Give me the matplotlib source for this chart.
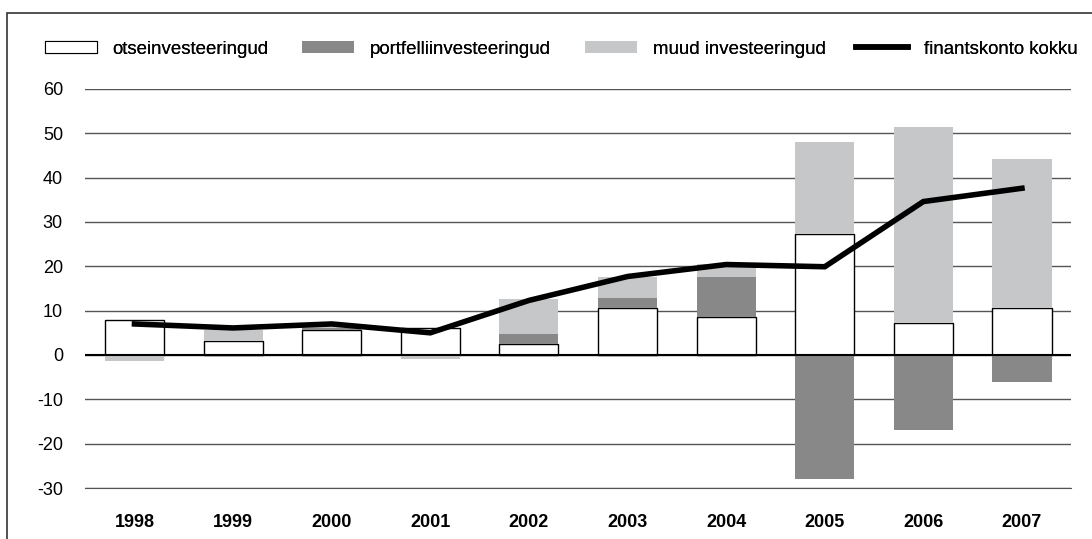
import matplotlib.pyplot as plt
import numpy as np
from matplotlib.patches import Rectangle
from matplotlib.lines import Line2D

plt.rcParams['font.family'] = ['Liberation Sans', 'DejaVu Sans']
plt.rcParams['axes.unicode_minus'] = False

years = ['1998', '1999', '2000', '2001', '2002', '2003', '2004', '2005', '2006', '2007']
otse = [7.9, 3.2, 5.7, 6.1, 2.4, 10.7, 8.6, 27.3, 7.2, 10.5]
portfell = [0.0, 0.0, 0.3, 0.0, 2.3, 2.2, 9.1, -27.9, -16.9, -6.0]
muud = [-1.4, 2.4, 0.6, -0.8, 7.9, 4.7, 2.8, 20.8, 44.3, 33.7]
kokku = [7.0, 6.1, 7.0, 5.0, 12.3, 17.7, 20.4, 19.9, 34.6, 37.6]

fig = plt.figure(figsize=(10.92, 5.39), dpi=100)
ax = fig.add_axes([0.078, 0.0946, 0.903, 0.7404])

x = np.arange(len(years))
w = 0.6
pos = np.zeros(len(years))
neg = np.zeros(len(years))

def stack(vals, **kw):
    vals = np.array(vals)
    base = np.where(vals >= 0, pos, neg)
    ax.bar(x, vals, w, bottom=base, zorder=3, **kw)
    pos[:] = pos + np.clip(vals, 0, None)
    neg[:] = neg + np.clip(vals, None, 0)

stack(otse, color='white', edgecolor='black', linewidth=1.0)
stack(portfell, color='#888889', linewidth=0)
stack(muud, color='#c6c7c9', linewidth=0)
ax.plot(x, kokku, color='black', lw=4, zorder=5, solid_joinstyle='miter')

ax.set_xlim(-0.5, 9.5)
ax.set_ylim(-30, 60)
ax.set_yticks(range(-30, 61, 10))
ax.yaxis.grid(True, color='#555555', lw=1.0, zorder=0)
ax.axhline(0, color='black', lw=1.5, zorder=4)
for s in ['top', 'right', 'left']:
    ax.spines[s].set_visible(False)
ax.spines['bottom'].set_color('#555555')
ax.tick_params(axis='both', length=0, labelsize=13)
ax.tick_params(axis='y', pad=16)
ax.tick_params(axis='x', pad=19)
ax.set_xticks(x)
ax.set_xticklabels(years, fontweight='bold')

handles = [
    Rectangle((0, 0), 1, 1, facecolor='white', edgecolor='black', lw=0.8),
    Rectangle((0, 0), 1, 1, facecolor='#888889', edgecolor='none'),
    Rectangle((0, 0), 1, 1, facecolor='#c6c7c9', edgecolor='none'),
    Line2D([], [], color='black', lw=4),
]
labels = ['otseinvesteeringud', 'portfelliinvesteeringud', 'muud investeeringud', 'finantskonto kokku']
leg_x = [45, 302, 585, 856]
for h, lab, lx in zip(handles, labels, leg_x):
    leg = fig.legend([h], [lab], loc='center left', bbox_to_anchor=(lx / 1092, 1 - 49 / 539),
                     frameon=False, fontsize=13.4, handlelength=2.78, handleheight=0.6,
                     handletextpad=0.85, borderpad=0, borderaxespad=0)
    fig.add_artist(leg)

fig.patches.append(Rectangle((7 / 1092, -0.01), 1.0, 1 - 13 / 539 + 0.01, transform=fig.transFigure,
                             fill=False, edgecolor='#333333', lw=1.2))

fig.savefig('out.png', dpi=100)
